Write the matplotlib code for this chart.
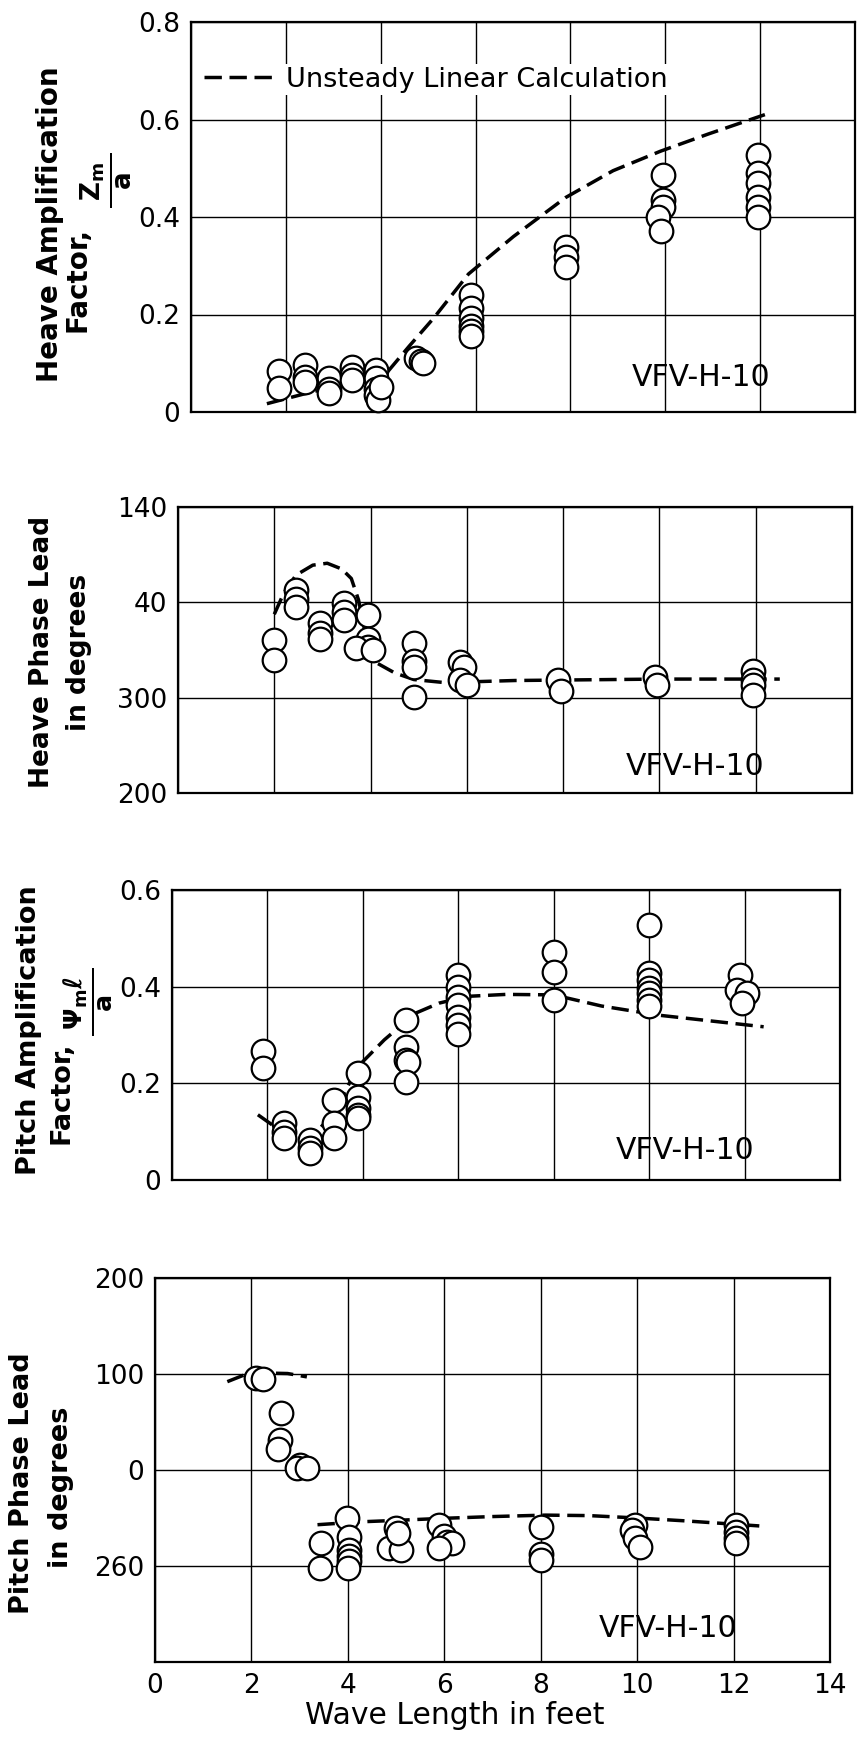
import matplotlib.pyplot as plt

W, H = 858, 1745

# panel 1: heave amplification factor Zm/a
heave_amp_x = [1.85, 1.85, 2.4, 2.4, 2.4, 2.9, 2.9, 2.9, 3.4, 3.4, 3.4,
               3.9, 3.9, 3.9, 3.9, 3.95, 4.0, 4.75, 4.85, 4.9,
               5.9, 5.9, 5.9, 5.9, 5.9, 5.9, 7.9, 7.9, 7.9,
               9.95, 9.95, 9.95, 9.85, 9.9,
               11.95, 11.95, 11.95, 11.95, 11.95, 11.95]
heave_amp_y = [0.085, 0.05, 0.097, 0.072, 0.062, 0.069, 0.048, 0.038, 0.093, 0.076, 0.066,
               0.086, 0.069, 0.048, 0.034, 0.024, 0.052, 0.11, 0.105, 0.1,
               0.241, 0.214, 0.193, 0.176, 0.166, 0.155, 0.338, 0.317, 0.297,
               0.486, 0.434, 0.421, 0.4, 0.372,
               0.528, 0.49, 0.469, 0.441, 0.421, 0.4]
heave_amp_calc_x = [1.6, 2.5, 3.4, 4.15, 4.6, 5.12, 5.85, 6.8, 7.9, 8.9, 9.9, 10.9, 12.1]
heave_amp_calc_y = [0.017, 0.04, 0.06, 0.083, 0.135, 0.193, 0.283, 0.36, 0.44, 0.495, 0.535, 0.57, 0.61]

# panel 2: heave phase lead (degrees)
heave_ph_x = [2.0, 2.0, 2.45, 2.45, 2.45, 2.95, 2.95, 2.95, 3.45, 3.45, 3.45,
              3.95, 3.95, 3.95, 3.7, 4.05, 4.9, 4.9, 4.9, 4.9,
              5.85, 5.95, 5.85, 6.0, 7.9, 7.95, 9.9, 9.95,
              11.95, 11.95, 11.95, 11.95]
heave_ph_y = [312.1, 307.9, 322.6, 320.8, 319.1, 315.6, 313.5, 312.4, 319.8, 318.0, 316.3,
              317.3, 312.4, 310.7, 310.4, 310.0, 311.4, 307.6, 306.5, 300.2,
              307.4, 306.5, 303.7, 302.7, 303.7, 301.3, 304.4, 302.7,
              305.5, 303.7, 302.7, 300.6]
heave_ph_calc_x = [2.0, 2.2, 2.45, 2.8, 3.1, 3.4, 3.6, 3.75, 4.0, 4.5, 4.9, 5.5,
                   6.0, 7.0, 8.0, 9.0, 10.0, 11.0, 12.5]
heave_ph_calc_y = [317.5, 322, 325.7, 327.8, 328.2, 327, 325, 320.5, 308, 305.2, 303.8, 303.2,
                   303.3, 303.6, 303.7, 303.8, 303.9, 303.9, 303.9]

# panel 3: pitch amplification factor
pitch_amp_x = [1.9, 1.9, 2.35, 2.35, 2.35, 2.9, 2.9, 2.9, 3.4, 3.4, 3.4,
               3.9, 3.9, 3.9, 3.9, 3.9, 4.9, 4.9, 4.9, 4.95, 4.9,
               6.0, 6.0, 6.0, 6.0, 6.0, 6.0, 6.0, 8.0, 8.0, 8.0,
               10.0, 10.0, 10.0, 10.0, 10.0, 10.0, 10.0,
               11.9, 11.85, 12.05, 11.95]
pitch_amp_y = [0.266, 0.231, 0.117, 0.1, 0.086, 0.083, 0.066, 0.055, 0.166, 0.117, 0.086,
               0.221, 0.172, 0.148, 0.134, 0.128, 0.331, 0.276, 0.248, 0.245, 0.203,
               0.424, 0.4, 0.379, 0.362, 0.338, 0.321, 0.303, 0.472, 0.431, 0.372,
               0.528, 0.428, 0.414, 0.397, 0.386, 0.372, 0.359,
               0.424, 0.393, 0.386, 0.366]
pitch_amp_calc_x = [1.8, 2.3, 2.9, 3.4, 3.9, 4.45, 5.1, 5.6, 6.2, 7.0, 8.0, 9.0, 10.2, 12.4]
pitch_amp_calc_y = [0.135, 0.1, 0.085, 0.14, 0.235, 0.29, 0.345, 0.366, 0.38, 0.384, 0.383, 0.36, 0.341, 0.317]

# panel 4: pitch phase lead (degrees, -100 is printed as 260)
pitch_ph_x = [2.1, 2.25, 2.62, 2.6, 2.55, 3.0, 2.95, 3.16, 3.45, 3.42,
              3.98, 4.02, 4.02, 4.02, 4.02, 4.0, 4.85, 5.0, 5.1, 5.05,
              5.9, 6.0, 6.05, 6.15, 5.9, 8.0, 8.0, 8.0,
              9.95, 9.9, 9.95, 10.05, 12.05, 12.05, 12.05, 12.05]
pitch_ph_y = [95.6, 94.5, 59.1, 31.3, 22.0, 5.0, 1.7, 2.0, -76.0, -102.0,
              -50.0, -70.0, -83.0, -90.0, -95.0, -102.0, -81.0, -60.0, -83.0, -66.0,
              -57.0, -69.0, -74.8, -76.5, -81.0, -59.1, -87, -93.9,
              -57.4, -62.6, -71.3, -80, -57.4, -64.3, -71.3, -76.5]
pitch_ph_calc1_x = [1.5, 1.85, 2.3, 2.75, 3.15]
pitch_ph_calc1_y = [92, 99, 101, 100.5, 97]
pitch_ph_calc2_x = [3.37, 4.25, 5.0, 5.9, 7.0, 8.1, 9.0, 10.0, 11.0, 12.6]
pitch_ph_calc2_y = [-57.0, -54.0, -52.5, -50.5, -48.5, -47, -47.5, -50, -53, -58.5]

plt.rcParams['font.family'] = ['DejaVu Sans']
plt.rcParams['mathtext.default'] = 'bf'

fig = plt.figure(figsize=(W / 100, H / 100), dpi=100)


def add_panel(left, right, top, bottom):
    # box given in pixels of the figure
    return fig.add_axes([left / W, 1 - bottom / H, (right - left) / W, (bottom - top) / H])


def side_text(x, y, s, size, weight='bold'):
    # rotated label piece centred at pixel (x, y)
    fig.text(x / W, 1 - y / H, s, rotation=90, ha='center', va='center',
             fontsize=size, fontweight=weight)


def style(ax, ylim, yticks, ylabels):
    ax.set_xlim(0, 14)
    ax.set_ylim(*ylim)
    ax.set_xticks(range(0, 15, 2))
    ax.set_yticks(yticks)
    ax.set_yticklabels(ylabels)
    ax.grid(True, color='black', lw=1.0)
    ax.set_axisbelow(True)
    ax.tick_params(length=0, labelsize=19, pad=8)
    for sp in ax.spines.values():
        sp.set_linewidth(1.6)


def draw(ax, x, y):
    ax.plot(x, y, 'o', ms=17, mfc='white', mec='black', mew=1.6, zorder=3, clip_on=False)


def calc(ax, x, y):
    return ax.plot(x, y, color='black', lw=2.5, dashes=(5, 2.2), zorder=2)[0]


dash_kw = dict(fontsize=21.5, ha='left', va='center')

ax1 = add_panel(191, 855, 22, 412)
style(ax1, (0, 0.8), [0, 0.2, 0.4, 0.6, 0.8], ['0', '0.2', '0.4', '0.6', '0.8'])
ln = calc(ax1, heave_amp_calc_x, heave_amp_calc_y)
draw(ax1, heave_amp_x, heave_amp_y)
ax1.set_xticklabels([])
leg = ax1.legend([ln], ['Unsteady Linear Calculation'], loc='center left',
                 bbox_to_anchor=(0.015, 0.852), frameon=True, fontsize=19.5,
                 handlelength=2.75, handletextpad=0.3, borderpad=0.1, borderaxespad=0,
                 fancybox=False, framealpha=1)
leg.get_frame().set_edgecolor('none')
ax1.text(9.3, 0.07, 'VFV-H-10', **dash_kw)
side_text(50, 224, 'Heave Amplification', 20)
side_text(77, 279, 'Factor,', 20)
side_text(106, 180, '$\\frac{\\;Z_m\\;}{\\;a\\;}$', 27)

ax2 = add_panel(178, 852, 507, 793)
style(ax2, (280, 340), [280, 300, 320, 340], ['200', '300', '40', '140'])
calc(ax2, heave_ph_calc_x, heave_ph_calc_y)
draw(ax2, heave_ph_x, heave_ph_y)
ax2.set_xticklabels([])
ax2.text(9.3, 285.6, 'VFV-H-10', **dash_kw)
side_text(42, 652, 'Heave Phase Lead', 19)
side_text(79, 652, 'in degrees', 19)

ax3 = add_panel(172, 840, 890, 1180)
style(ax3, (0, 0.6), [0, 0.2, 0.4, 0.6], ['0', '0.2', '0.4', '0.6'])
calc(ax3, pitch_amp_calc_x, pitch_amp_calc_y)
draw(ax3, pitch_amp_x, pitch_amp_y)
ax3.set_xticklabels([])
ax3.text(9.3, 0.062, 'VFV-H-10', **dash_kw)
side_text(29, 1030, 'Pitch Amplification', 19.5)
side_text(62, 1093, 'Factor,', 19.5)
side_text(88, 1002, '$\\frac{\\;\\Psi_m \\ell\\;}{\\;a\\;}$', 26)

ax4 = add_panel(155, 830, 1278, 1662)
style(ax4, (-200, 200), [-200, -100, 0, 100, 200], ['', '260', '0', '100', '200'])
calc(ax4, pitch_ph_calc1_x, pitch_ph_calc1_y)
calc(ax4, pitch_ph_calc2_x, pitch_ph_calc2_y)
draw(ax4, pitch_ph_x, pitch_ph_y)
ax4.text(9.2, -165, 'VFV-H-10', **dash_kw)
side_text(22, 1483, 'Pitch Phase Lead', 19.5)
side_text(61, 1487, 'in degrees', 19.5)
ax4.set_xlabel('Wave Length in feet', fontsize=21.5, va='center')
ax4.xaxis.set_label_coords(455 / W, 1 - 1716 / H, transform=fig.transFigure)

fig.savefig('out.png', dpi=100)
